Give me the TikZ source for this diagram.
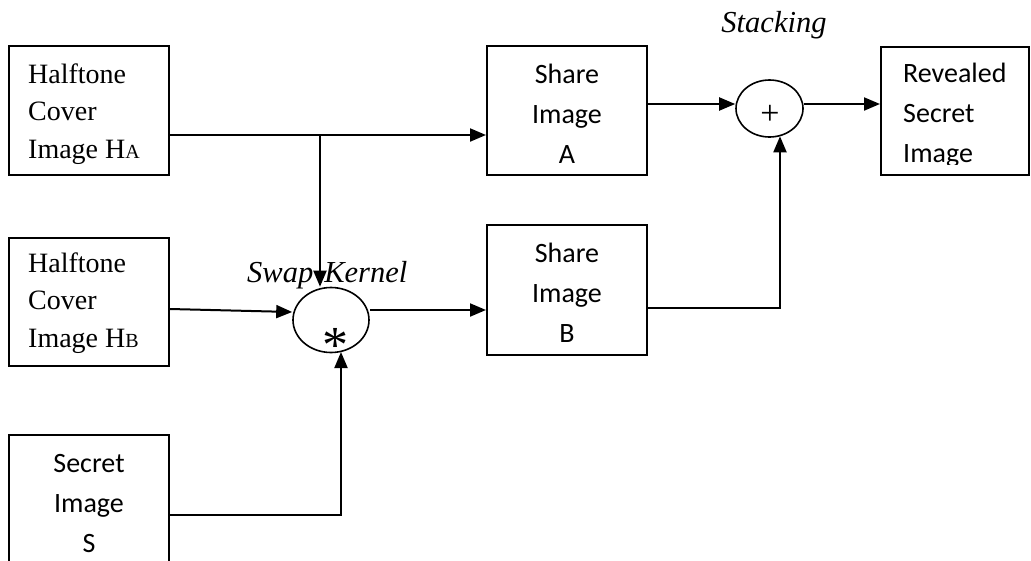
\documentclass[tikz,border=0pt]{standalone}
\usepackage{fontspec}
\setmainfont{Liberation Serif}
\newfontfamily\calibrifont{Carlito}
\usetikzlibrary{arrows.meta,shapes.geometric}

\tikzset{
  box/.style={draw, line width=2pt, inner sep=0pt, minimum width=160pt},
  op/.style={draw, ellipse, line width=1.6pt, inner sep=0pt},
  conn/.style={line width=2pt},
  arr/.style={conn, -{Triangle[length=16pt,width=13pt]}},
  serif/.style={inner sep=0pt, align=left, font=\fontsize{28pt}{37.5pt}\selectfont},
  sans/.style={inner sep=0pt, font=\calibrifont\fontsize{28pt}{40pt}\selectfont},
  oplabel/.style={inner sep=0pt, font=\itshape\fontsize{30.5pt}{36pt}\selectfont},
}
\newcommand{\smallcap}[1]{{\fontsize{20pt}{20pt}\selectfont #1}}

\begin{document}
\begin{tikzpicture}[x=1pt,y=-1pt]
  \clip (0,0) rectangle (1031,560);

  % input boxes
  \node[box, minimum height=129pt] (ha) at (89,110.5) {};
  \node[box, minimum height=128pt] (hb) at (89,302) {};
  \node[box, minimum height=140pt] (s)  at (89,505) {};
  % share boxes
  \node[box, minimum height=129pt] (sharea) at (567,110.5) {};
  \node[box, minimum height=130pt] (shareb) at (567,290) {};
  % output box
  \node[box, minimum width=148pt, minimum height=128pt] (rev) at (955,111) {};

  % operators
  \node[op, minimum width=76pt, minimum height=65pt] (swap) at (331,320) {};
  \node[op, minimum width=67pt, minimum height=57pt] (stack) at (769.5,108.5) {};

  % box texts (base anchor sits on the last line)
  \node[serif, anchor=base west] (hatext) at (28,158) {Halftone\\Cover\\Image H\smallcap{A}};
  \node[serif, anchor=base west] (hbtext) at (28,347) {Halftone\\Cover\\Image H\smallcap{B}};
  \node[sans, align=center, anchor=base] (stext) at (89,552) {Secret\\Image\\S};
  \node[sans, align=center, anchor=base] (satext) at (567,163) {Share\\Image\\A};
  \node[sans, align=center, anchor=base] (sbtext) at (567,342) {Share\\Image\\B};
  \begin{scope}
    \clip (881,40) rectangle (1031,164.5);
    \node[sans, align=left, anchor=base west] (revtext) at (903,162) {Revealed\\Secret\\Image};
  \end{scope}

  % operator symbols and captions
  \node[inner sep=0pt, anchor=base, font=\fontsize{52pt}{52pt}\selectfont] (star) at (335,362) {*};
  \node[inner sep=0pt, anchor=base, font=\fontsize{34pt}{34pt}\selectfont] (plus) at (770,124.5) {+};
  \node[oplabel, anchor=base] (stacklabel) at (774,32) {Stacking};
  \node[oplabel, anchor=base west] (swaplabel) at (247,282) {Swap\hspace{11pt}Kernel};

  % connectors
  \coordinate (split) at (320,135);
  \draw[arr] ([yshift=-24.5pt]ha.east) -- (sharea.west |- split);
  \draw[arr] (split) -- (split |- swap.north);
  \draw[arr] ([yshift=-7pt]hb.east) -- ([yshift=8pt]swap.west);
  \draw[arr] ([yshift=10pt]swap.east) coordinate (swout) -- (swout -| shareb.west);
  \coordinate (sbturn) at (780,308);
  \draw[arr] (shareb.east |- sbturn) -- (sbturn) -- ([yshift=1.5pt]sbturn |- stack.south);
  \draw[arr] ([yshift=6.5pt]sharea.east) coordinate (saout) -- (saout -| stack.west);
  \draw[arr] (stack.east |- saout) -- (saout -| rev.west);
  \coordinate (sturn) at (341,515);
  \draw[arr] (s.east |- sturn) -- (sturn) -- ([yshift=-32pt]sturn |- swap.center);
\end{tikzpicture}
\end{document}
